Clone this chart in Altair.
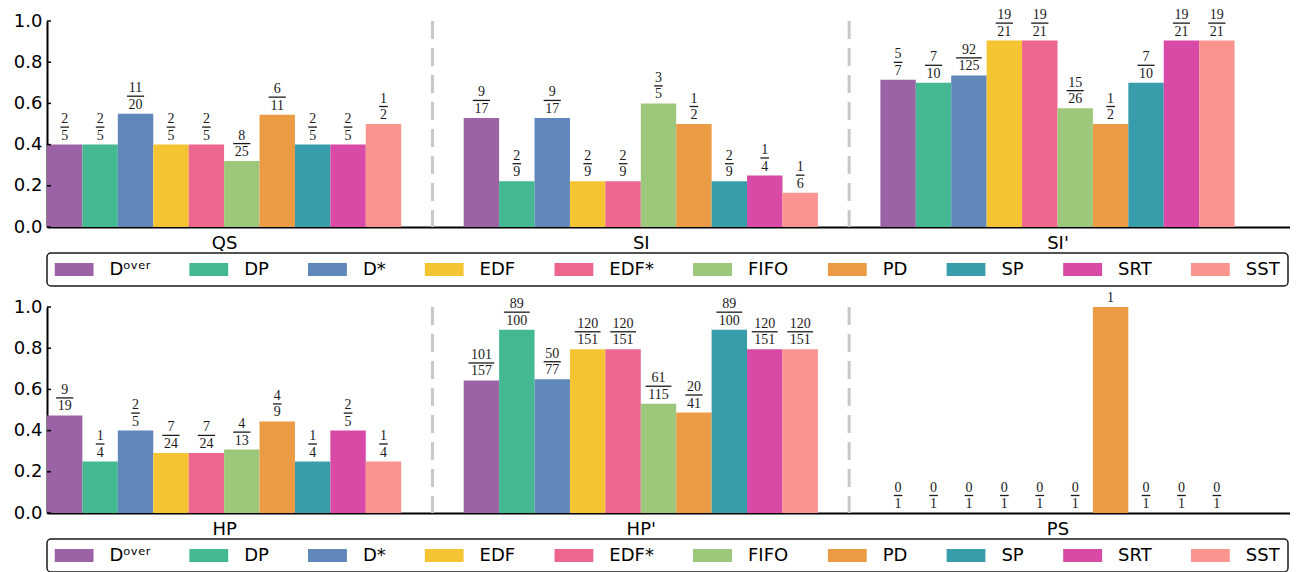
import altair as alt
import pandas as pd

# ---------------- data ----------------
ALGOS = ["Dᵒᵛᵉʳ", "DP", "D*", "EDF", "EDF*", "FIFO", "PD", "SP", "SRT", "SST"]
COLORS = ["#9B63A5", "#43B893", "#5F87BA", "#F4C433", "#EC668E",
          "#9DC77A", "#EA9B43", "#389DAA", "#D84AA5", "#F9958E"]

GROUPS_TOP = ["QS", "SI", "SI'"]
GROUPS_BOTTOM = ["HP", "HP'", "PS"]

QS = ["2/5", "2/5", "11/20", "2/5", "2/5", "8/25", "6/11", "2/5", "2/5", "1/2"]
SI = ["9/17", "2/9", "9/17", "2/9", "2/9", "3/5", "1/2", "2/9", "1/4", "1/6"]
SI_P = ["5/7", "7/10", "92/125", "19/21", "19/21", "15/26", "1/2", "7/10", "19/21", "19/21"]
HP = ["9/19", "1/4", "2/5", "7/24", "7/24", "4/13", "4/9", "1/4", "2/5", "1/4"]
HP_P = ["101/157", "89/100", "50/77", "120/151", "120/151", "61/115", "20/41",
        "89/100", "120/151", "120/151"]
PS = ["0/1", "0/1", "0/1", "0/1", "0/1", "0/1", "1/1", "0/1", "0/1", "0/1"]

ROW_TOP = [QS, SI, SI_P]
ROW_BOTTOM = [HP, HP_P, PS]

Y_TICKS = [0.0, 0.2, 0.4, 0.6, 0.8, 1.0]

# ---------------- layout constants ----------------
W, H = 1243, 206
BAR_W = 0.085          # bar width in group units
GROUP_SPAN = 0.85      # 10 bars
X_MAX = 2.983
DIGIT_PX = 8.6         # fraction bar length per digit (px)
FONT = "DejaVu Sans"
SERIF = "Liberation Serif"


def build_df(groups, rows):
    recs = []
    for gi, (g, vals) in enumerate(zip(groups, rows)):
        for j, (a, f) in enumerate(zip(ALGOS, vals)):
            n, d = f.split("/")
            x0 = gi + j * BAR_W
            frac = not (n == d)
            recs.append(dict(
                group=g, algo=a, num=n if frac else "1", den=d,
                value=int(n) / int(d), base=0.0,
                x0=x0, x1=x0 + BAR_W, xc=x0 + BAR_W / 2,
                linelen=DIGIT_PX * max(len(n), len(d)), frac=frac,
            ))
    return pd.DataFrame(recs)


def panel(groups, rows):
    df = build_df(groups, rows)
    centers = [gi + GROUP_SPAN / 2 for gi in range(len(groups))]
    label_expr = " : ".join(
        [f"datum.value < {gi + 1} ? \"{g}\"" for gi, g in enumerate(groups[:-1])]
        + [f"\"{groups[-1]}\""]
    )
    xscale = alt.Scale(domain=[0, X_MAX], nice=False, zero=False)
    yscale = alt.Scale(domain=[0, 1], nice=False)

    base = alt.Chart(df)

    bars = base.mark_bar(stroke=None, opacity=1).encode(
        x=alt.X("x0:Q", scale=xscale,
                axis=alt.Axis(values=centers, labelExpr=label_expr, title=None,
                              grid=False, tickSize=0, domainColor="black",
                              domainWidth=2, labelFont=FONT, labelFontSize=18,
                              labelFontWeight="normal",
                              labelColor="black", labelPadding=7,
                              labelBaseline="top")),
        x2="x1:Q",
        y=alt.Y("value:Q", scale=yscale,
                axis=alt.Axis(values=Y_TICKS, format=".1f",
                              title=None, grid=False, tickSize=0,
                              domainColor="black", domainWidth=2,
                              labelFont=FONT, labelFontSize=18,
                              labelFontWeight="normal",
                              labelColor="black", labelPadding=5)),
        y2="base:Q",
        color=alt.Color("algo:N", sort=ALGOS,
                        scale=alt.Scale(domain=ALGOS, range=COLORS),
                        legend=alt.Legend(
                            title=None, orient="none", legendX=0, legendY=232,
                            direction="horizontal", columns=10,
                            symbolType="M-1,-0.3333H1V0.3333H-1Z",
                            symbolSize=1521, symbolStrokeWidth=0,
                            symbolOpacity=1, clipHeight=18,
                            labelFont=FONT, labelFontSize=18,
                            labelFontWeight="normal",
                            labelColor="black", labelOffset=16,
                            columnPadding=38.7, padding=7.5,
                            strokeColor="#1a1a1a", cornerRadius=4,
                            fillColor="white")),
    )

    sep_df = pd.DataFrame({"x": [gi + (GROUP_SPAN + 1) / 2 for gi in range(len(groups) - 1)]})
    seps = alt.Chart(sep_df).mark_rule(
        color="#c8c8c8", strokeWidth=3, strokeDash=[18, 9]
    ).encode(x=alt.X("x:Q", scale=xscale))

    # small inward ticks on the y axis
    ticks = alt.Chart(pd.DataFrame({"t": Y_TICKS})).mark_rule(
        color="black", strokeWidth=1.5
    ).encode(x=alt.value(0), x2=alt.value(4), y=alt.Y("t:Q", scale=yscale))

    fr = base.transform_filter("datum.frac")
    whole = base.transform_filter("!datum.frac")
    txt = dict(font=SERIF, fontSize=14, color="#1a1a1a", baseline="alphabetic",
               align="center")

    num = fr.mark_text(dy=-21.5, **txt).encode(
        x=alt.X("xc:Q", scale=xscale), y=alt.Y("value:Q", scale=yscale), text="num:N")
    den = fr.mark_text(dy=-5, **txt).encode(
        x=alt.X("xc:Q", scale=xscale), y=alt.Y("value:Q", scale=yscale), text="den:N")
    line = fr.mark_tick(orient="horizontal", thickness=1.3, yOffset=-17.5,
                        color="#1a1a1a", opacity=1).encode(
        x=alt.X("xc:Q", scale=xscale), y=alt.Y("value:Q", scale=yscale),
        size=alt.Size("linelen:Q", scale=None, legend=None))
    one = whole.mark_text(dy=-5, **txt).encode(
        x=alt.X("xc:Q", scale=xscale), y=alt.Y("value:Q", scale=yscale), text="num:N")

    return alt.layer(seps, bars, ticks, num, den, line, one).properties(width=W, height=H)


top = panel(GROUPS_TOP, ROW_TOP)
bottom = panel(GROUPS_BOTTOM, ROW_BOTTOM)

chart = (
    alt.vconcat(top, bottom, spacing=4)
    .resolve_scale(color="independent")
    .resolve_legend(color="independent")
    .properties(padding={"left": 5, "top": 0, "right": 0, "bottom": 0})
    .configure_view(stroke=None)
    .configure_legend(strokeWidth=1.5)
)

chart.save("out.html", embed_options={"renderer": "svg", "actions": False})
